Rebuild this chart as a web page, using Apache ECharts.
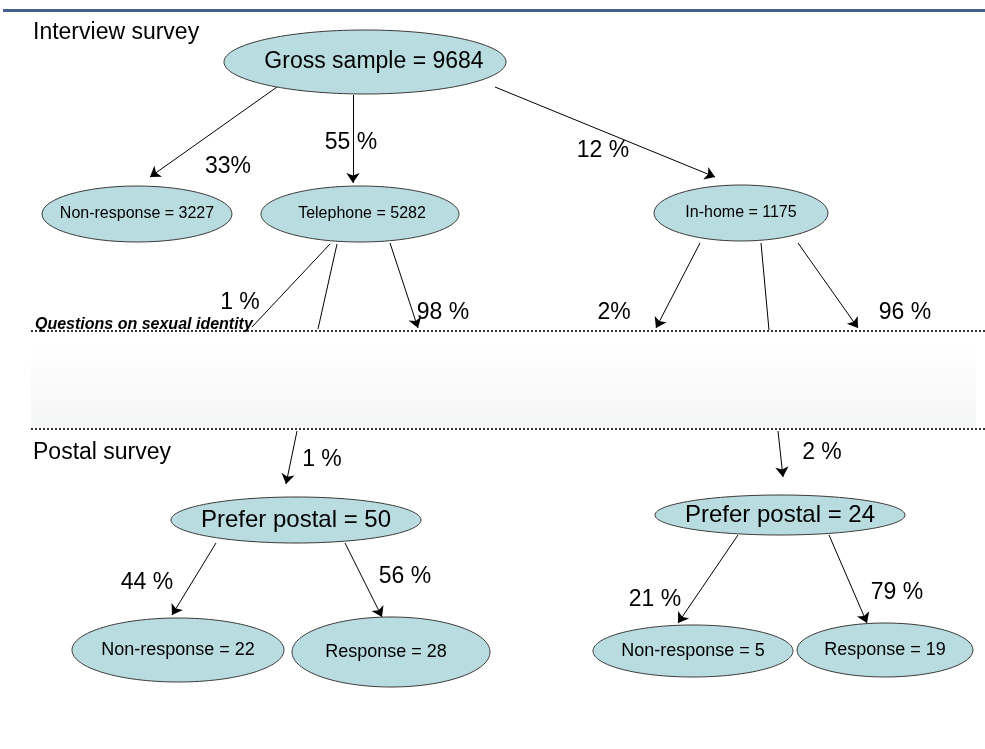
<!DOCTYPE html>
<html>
<head>
<meta charset="utf-8">
<script src="https://cdn.jsdelivr.net/npm/echarts@6/dist/echarts.min.js"></script>
<style>
html,body{margin:0;padding:0;background:#fff;}
#chart{width:985px;height:749px;}
</style>
</head>
<body>
<div id="chart"></div>
<script>
// ---- data ----
const nodeNames  = ['Gross sample', 'Non-response', 'Telephone', 'In-home', 'Prefer postal', 'Non-response', 'Response', 'Prefer postal', 'Non-response', 'Response'];
const nodeCounts = [9684, 3227, 5282, 1175, 50, 22, 28, 24, 5, 19];
const edgeLabels = ['33%', '55 %', '12 %', '1 %', '98 %', '2%', '96 %', '1 %', '2 %', '44 %', '56 %', '21 %', '79 %'];
const sectionLabels = ['Interview survey', 'Postal survey'];
const dividerLabel = 'Questions on sexual identity';

// ---- layout (diagram coordinates, 0..985 x 0..749) ----
const nodeCX = [365, 137, 360, 741, 296, 178, 391, 780, 693, 885];
const nodeCY = [62, 214, 214, 213, 520, 650, 652, 515, 651, 650];
const nodeRX = [141, 95, 99, 87, 125, 106, 99, 125, 100, 88];
const nodeRY = [32, 28, 28, 28, 23, 32, 35, 20, 26, 27];
const nodeFont = [23, 16, 16, 16, 24, 18, 18, 24, 18, 18];
const nodeTextDX = [9, 0, 2, 0, 0, 0, -5, 0, 0, 0];

const edgeLabelX = [228, 351, 603, 240, 443, 614, 905, 322, 822, 147, 405, 655, 897];
const edgeLabelY = [167, 143, 151, 303, 313, 313, 313, 460, 453, 583, 577, 600, 593];

const arrowFrom = [[277,87],[353,95],[495,87],[390,243],[700,243],[798,243],[297,431],[778,431],[216,543],[345,543],[738,535],[829,535]];
const arrowTo   = [[150,177],[353,183],[715,177],[418,328],[656,328],[858,328],[286,484],[783,477],[172,615],[382,617],[678,623],[867,623]];
const plainFrom = [[330,244],[337,244],[761,243]];
const plainTo   = [[252,327],[318,329],[769,330]];

const dividerY = [331, 429];

const font = "'Liberation Sans', Arial, sans-serif";

const chart = echarts.init(document.getElementById('chart'), null, {renderer: 'canvas'});

const nodeData = nodeNames.map((n, i) => [nodeCX[i], nodeCY[i], nodeRX[i], nodeRY[i], i]);
const edgeLabelData = edgeLabels.map((t, i) => [edgeLabelX[i], edgeLabelY[i], i]);

chart.setOption({
  animation: false,
  grid: {left: 0, right: 0, top: 0, bottom: 0},
  xAxis: {type: 'value', min: 0, max: 985, show: false},
  yAxis: {type: 'value', min: 0, max: 749, inverse: true, show: false},
  graphic: [
    {type: 'rect', shape: {x: 31, y: 345, width: 945, height: 83}, z: 0,
     style: {fill: new echarts.graphic.LinearGradient(0, 0, 0, 1, [{offset: 0, color: '#ffffff'}, {offset: 1, color: '#f4f5f5'}])}},
    {type: 'rect', shape: {x: 3, y: 9, width: 982, height: 3}, style: {fill: '#46628b'}, z: 1}
  ],
  series: [
    {
      type: 'lines', coordinateSystem: 'cartesian2d', z: 2,
      symbol: ['none', 'none'],
      lineStyle: {color: '#000', width: 1.6, type: [2, 2], opacity: 1},
      data: dividerY.map(y => ({coords: [[31, y], [985, y]]}))
    },
    {
      type: 'lines', coordinateSystem: 'cartesian2d', z: 3,
      symbol: ['none', 'arrow'], symbolSize: [8, 10],
      lineStyle: {color: '#000', width: 1, opacity: 1},
      data: arrowFrom.map((f, i) => ({coords: [f, arrowTo[i]]}))
    },
    {
      type: 'lines', coordinateSystem: 'cartesian2d', z: 3,
      symbol: ['none', 'none'],
      lineStyle: {color: '#000', width: 1, opacity: 1},
      data: plainFrom.map((f, i) => ({coords: [f, plainTo[i]]}))
    },
    {
      type: 'custom', coordinateSystem: 'cartesian2d', z: 4,
      data: nodeData,
      renderItem: function (params, api) {
        const i = api.value(4);
        const c = api.coord([api.value(0), api.value(1)]);
        const s = api.size([api.value(2), api.value(3)]);
        return {
          type: 'group',
          children: [
            {type: 'ellipse', shape: {cx: c[0], cy: c[1], rx: s[0], ry: s[1]},
             style: {fill: '#b8dce0', stroke: '#3a3a3a', lineWidth: 1}},
            {type: 'text', x: c[0] + nodeTextDX[i], y: c[1],
             style: {text: nodeNames[i] + ' = ' + nodeCounts[i], font: nodeFont[i] + 'px ' + font,
                     fill: '#000', align: 'center', verticalAlign: 'middle'}}
          ]
        };
      }
    },
    {
      type: 'custom', coordinateSystem: 'cartesian2d', z: 5,
      data: edgeLabelData,
      renderItem: function (params, api) {
        const i = api.value(2);
        const c = api.coord([api.value(0), api.value(1)]);
        return {type: 'text', x: c[0], y: c[1],
          style: {text: edgeLabels[i], font: '23px ' + font, fill: '#000', align: 'center', verticalAlign: 'middle'}};
      }
    },
    {
      type: 'custom', coordinateSystem: 'cartesian2d', z: 5,
      data: [[33, 33, 0], [33, 453, 1]],
      renderItem: function (params, api) {
        const i = api.value(2);
        const c = api.coord([api.value(0), api.value(1)]);
        return {type: 'text', x: c[0], y: c[1],
          style: {text: sectionLabels[i], font: '23px ' + font, fill: '#000', align: 'left', verticalAlign: 'middle'}};
      }
    },
    {
      type: 'custom', coordinateSystem: 'cartesian2d', z: 5,
      data: [[35, 325]],
      renderItem: function (params, api) {
        const c = api.coord([api.value(0), api.value(1)]);
        return {type: 'text', x: c[0], y: c[1],
          style: {text: dividerLabel, font: 'italic bold 16px ' + font, fill: '#000', align: 'left', verticalAlign: 'middle'}};
      }
    }
  ]
});
</script>
</body>
</html>
